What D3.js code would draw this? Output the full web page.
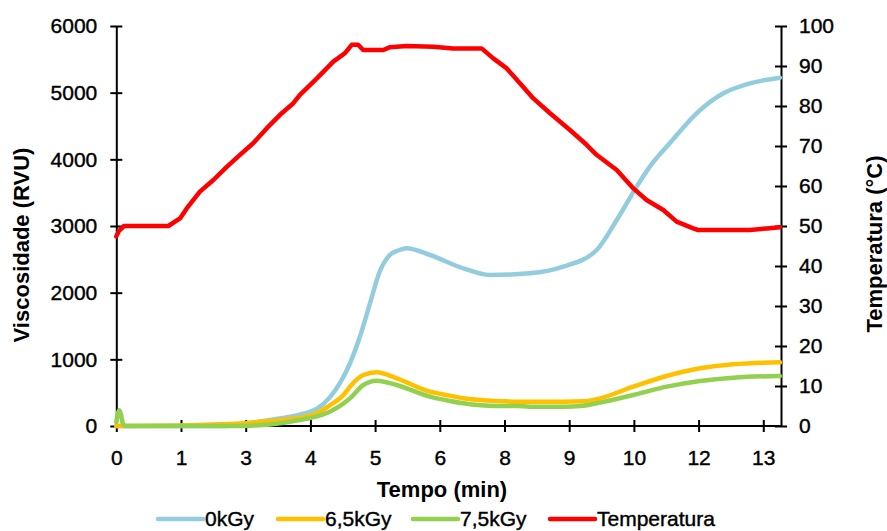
<!DOCTYPE html>
<html>
<head>
<meta charset="utf-8">
<script src="https://cdn.jsdelivr.net/npm/d3@7"></script>
<style>
  html, body { margin: 0; padding: 0; background: #fff; }
  svg { display: block; font-family: "Liberation Sans", Arial, sans-serif; }
  .tick text { font-size: 21px; fill: #000; stroke: #000; stroke-width: 0.4px; }
  .domain, .tick line { stroke: #000; stroke-width: 2px; }
</style>
</head>
<body>
<svg id="chart" width="887" height="531"></svg>
<script>
// Time axis: ticks every 1.3 min, labelled with the rounded minute
const xTickValues = [0, 1.3, 2.6, 3.9, 5.2, 6.5, 7.8, 9.1, 10.4, 11.7, 13.0];
const xTickLabels = ["0", "1", "3", "4", "5", "6", "8", "9", "10", "12", "13"];
const viscTicks = [0, 1000, 2000, 3000, 4000, 5000, 6000];
const tempTicks = [0, 10, 20, 30, 40, 50, 60, 70, 80, 90, 100];

// Viscosity (RVU) for 0 kGy
const t0 = [0, 0.3, 2.2, 2.686, 3.088, 3.49, 3.757, 4.027, 4.29, 4.49, 4.69, 4.89, 5.09, 5.29, 5.49, 5.69, 5.835, 6.303, 6.972, 7.508, 8.312, 8.98, 9.653, 10.08, 10.456, 10.72, 11.12, 11.66, 12.197, 12.73, 13.335];
const v0 = [0, 0, 0, 45, 90, 140, 185, 255, 430, 640, 930, 1330, 1820, 2310, 2560, 2640, 2665, 2565, 2365, 2265, 2290, 2390, 2640, 3120, 3590, 3890, 4240, 4690, 4990, 5140, 5225];

// Viscosity (RVU) for 6,5 kGy
const t65 = [0, 0.3, 2.285, 3.088, 3.625, 4.027, 4.29, 4.56, 4.695, 4.963, 5.232, 5.634, 6.303, 6.705, 6.972, 7.643, 8.045, 8.312, 8.98, 9.383, 9.718, 10.388, 11.059, 11.73, 12.397, 13.335];
const v65 = [0, 0, 30, 75, 115, 190, 310, 460, 590, 765, 805, 715, 515, 455, 415, 375, 365, 365, 365, 370, 415, 590, 750, 865, 925, 955];

// Viscosity (RVU) for 7,5 kGy
const t75 = [0, 0.06, 0.09, 0.13, 0.17, 0.3, 2.285, 2.948, 3.625, 4.027, 4.29, 4.695, 4.963, 5.232, 5.634, 6.303, 6.705, 6.972, 7.643, 8.045, 8.312, 8.98, 9.383, 9.718, 10.388, 11.059, 11.73, 12.397, 13.335];
const v75 = [60, 235, 180, 40, 0, 0, 0, 15, 82, 145, 215, 415, 615, 680, 615, 440, 375, 340, 300, 300, 290, 290, 305, 350, 465, 590, 675, 725, 750];

// Temperature (°C)
const tTemp = [0, 0.054, 0.155, 1.045, 1.28, 1.415, 1.68, 1.95, 2.22, 2.485, 2.75, 3.02, 3.29, 3.557, 3.69, 4.03, 4.36, 4.595, 4.73, 4.86, 4.96, 5.365, 5.5, 5.835, 6.37, 6.77, 7.34, 7.575, 7.845, 8.11, 8.38, 8.715, 9.115, 9.45, 9.65, 10.055, 10.39, 10.655, 10.99, 11.26, 11.59, 11.69, 12.73, 13.07, 13.335];
const temp = [47.4, 48.8, 50, 50, 51.9, 54.4, 58.6, 61.5, 64.8, 67.8, 70.7, 74.4, 77.8, 80.7, 82.8, 86.9, 91.1, 93.2, 95.3, 95.3, 94, 94, 94.7, 95, 94.8, 94.4, 94.4, 91.9, 89.4, 85.7, 81.9, 78.2, 74, 70.3, 67.8, 64, 59.4, 56.5, 54, 51.1, 49.4, 49, 49, 49.4, 49.7];

const seriesNames = ["0kGy", "6,5kGy", "7,5kGy", "Temperatura"];
const seriesColors = ["#93CDDD", "#FFC000", "#92D050", "#FF0000"];

const svg = d3.select("#chart");
const plotLeft = 116.3, plotRight = 781, plotTop = 26, plotBottom = 426;

const x = d3.scaleLinear().domain([0, 13.356]).range([plotLeft, plotRight]);
const yV = d3.scaleLinear().domain([0, 6000]).range([plotBottom, plotTop]);
const yT = d3.scaleLinear().domain([0, 100]).range([plotBottom, plotTop]);

// Axes with ticks crossing the axis line
const gx = svg.append("g").attr("transform", `translate(0,${plotBottom})`)
  .call(d3.axisBottom(x).tickValues(xTickValues)
    .tickFormat((d, i) => xTickLabels[i]).tickSizeOuter(0).tickSizeInner(6).tickPadding(18));
gx.select(".domain").attr("d", `M${plotLeft},0H${plotRight}`);
gx.selectAll(".tick line").attr("y1", -6).attr("y2", 6);
gx.selectAll(".tick text").attr("dy", "0.71em");

const gl = svg.append("g").attr("transform", `translate(${plotLeft},0)`)
  .call(d3.axisLeft(yV).tickValues(viscTicks).tickFormat(d3.format("d"))
    .tickSizeOuter(0).tickSizeInner(6).tickPadding(13));
gl.selectAll(".tick line").attr("x1", -6).attr("x2", 6);

const gr = svg.append("g").attr("transform", `translate(${plotRight},0)`)
  .call(d3.axisRight(yT).tickValues(tempTicks).tickFormat(d3.format("d"))
    .tickSizeOuter(0).tickSizeInner(6).tickPadding(12));
gr.selectAll(".tick line").attr("x1", -6).attr("x2", 6);

svg.selectAll(".tick text").attr("font-family", '"Liberation Sans", Arial, sans-serif');

// Curves
const viscLine = d3.line().curve(d3.curveMonotoneX);
const series = [
  { t: t0, v: v0, y: yV },
  { t: t65, v: v65, y: yV },
  { t: t75, v: v75, y: yV },
  { t: tTemp, v: temp, y: yT }
];
series.forEach((s, i) => {
  const pts = s.t.map((t, k) => [x(t), s.y(s.v[k])]);
  const gen = i === 3 ? d3.line().curve(d3.curveLinear) : viscLine;
  svg.append("path")
    .attr("d", gen(pts))
    .attr("fill", "none")
    .attr("stroke", seriesColors[i])
    .attr("stroke-width", 4.5)
    .attr("stroke-linejoin", "round")
    .attr("stroke-linecap", "round");
});

// Axis titles
svg.append("text")
  .attr("x", 442).attr("y", 497)
  .attr("text-anchor", "middle")
  .attr("font-size", 22).attr("font-weight", "bold")
  .text("Tempo (min)");

svg.append("text")
  .attr("transform", "translate(29,245) rotate(-90)")
  .attr("text-anchor", "middle")
  .attr("font-size", 22).attr("font-weight", "bold")
  .text("Viscosidade (RVU)");

svg.append("text")
  .attr("transform", "translate(882,244) rotate(-90)")
  .attr("text-anchor", "middle")
  .attr("font-size", 22).attr("font-weight", "bold")
  .text("Temperatura (°C)");

// Legend
const legendX = [158, 278, 413, 550];
const legend = svg.append("g");
seriesNames.forEach((name, i) => {
  legend.append("line")
    .attr("x1", legendX[i]).attr("x2", legendX[i] + 45)
    .attr("y1", 519).attr("y2", 519)
    .attr("stroke", seriesColors[i]).attr("stroke-width", 4.5)
    .attr("stroke-linecap", "round");
  legend.append("text")
    .attr("x", legendX[i] + 47).attr("y", 526)
    .attr("font-size", 21)
    .attr("fill", "#000").attr("stroke", "#000").attr("stroke-width", 0.4)
    .text(name);
});
</script>
</body>
</html>
